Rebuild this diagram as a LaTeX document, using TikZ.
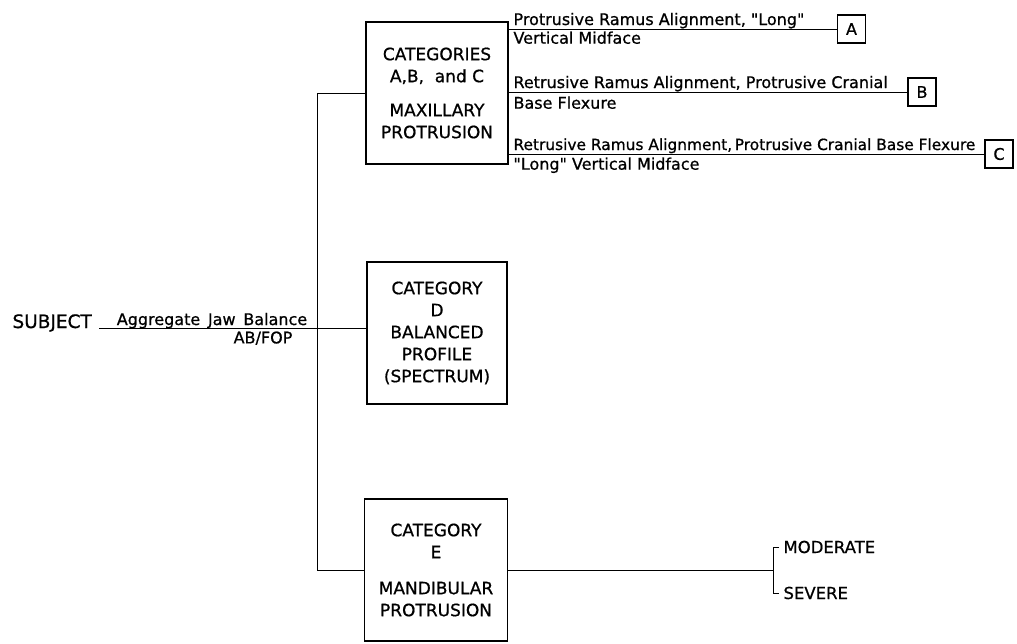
\documentclass[tikz,border=0pt]{standalone}
\usepackage{fontspec}
\setmainfont{DejaVu Sans}[FakeBold=0.8]
\newfontfamily\qfont{DejaVu Sans}[FakeBold=0.8]
\newcommand{\dq}{{\qfont\symbol{34}}}
\begin{document}
\begin{tikzpicture}[x=1pt,y=-1pt,line width=1pt,
  catbox/.style={draw,line width=1.5pt,minimum width=142pt,minimum height=142pt,align=center,inner sep=0pt,font=\fontsize{17}{22}\selectfont},
  lbl/.style={inner sep=0pt,font=\fontsize{16}{19}\selectfont},
  letterbox/.style={draw,line width=1.4pt,minimum width=28pt,minimum height=28pt,inner sep=0pt,font=\fontsize{16}{19}\selectfont}]
\useasboundingbox (0,0) rectangle (1017,643);
% category boxes
\node[catbox] (abc) at (437,93) {CATEGORIES\\A,B, \ and C\\[12pt]MAXILLARY\\PROTRUSION};
\node[catbox,minimum width=140pt] (d) at (437,333) {CATEGORY\\D\\BALANCED\\PROFILE\\(SPECTRUM)};
\node[catbox,minimum width=143pt] (e) at (436,570) {CATEGORY\\E\\[14pt]MANDIBULAR\\PROTRUSION};
% letter boxes
\node[letterbox] (la) at (851.5,29) {A};
\node[letterbox] (lb) at (922,92) {B};
\node[letterbox] (lc) at (999,154) {C};
% subject
\node[anchor=base west,inner sep=0pt,font=\fontsize{18.5}{22}\selectfont] (subj) at (12,328) {SUBJECT};
\draw ([xshift=7pt]subj.base east) -- (subj.base east -| d.west);
\node[lbl,anchor=base] (agg) at (212,325) {Aggregate \,Jaw \,Balance};
\node[lbl,anchor=north] (abfop) at (263,331) {AB/FOP};
% spine
\coordinate (spT) at (317,93);
\coordinate (spB) at (317,570);
\draw (abc.west) -- (spT) -- (spB) -- (e.west);
% branches to letters
\draw (la.west -| abc.east) -- (la.west);
\draw (lb.west -| abc.east) -- (lb.west);
\draw (lc.west -| abc.east) -- (lc.west);
\node[lbl,anchor=base west] (ta1) at (513,25) {Protrusive Ramus Alignment, \dq Long\dq};
\node[lbl,anchor=north west] (ta2) at (513,31) {Vertical Midface};
\node[lbl,anchor=base west] (tb1) at (513,88) {Retrusive Ramus Alignment, Protrusive Cranial};
\node[lbl,anchor=north west] (tb2) at (513,96) {Base Flexure};
\node[lbl,anchor=base west,font=\fontsize{15.4}{19}\selectfont] (tc1) at (513,150) {Retrusive Ramus Alignment,\,Protrusive Cranial Base Flexure};
\node[lbl,anchor=north west] (tc2) at (513,157) {\dq Long\dq\ Vertical Midface};
% severity bracket
\coordinate (brM) at (773,570);
\coordinate (brT) at (773,547);
\coordinate (brB) at (773,593);
\draw (e.east) -- (brM);
\draw ([xshift=6pt]brT) -- (brT) -- (brB) -- ([xshift=6pt]brB);
\node[lbl,anchor=west,font=\fontsize{16.5}{19}\selectfont] (mod) at (783,547) {MODERATE};
\node[lbl,anchor=west,font=\fontsize{16.5}{19}\selectfont] (sev) at (783,593) {SEVERE};
\end{tikzpicture}
\end{document}
